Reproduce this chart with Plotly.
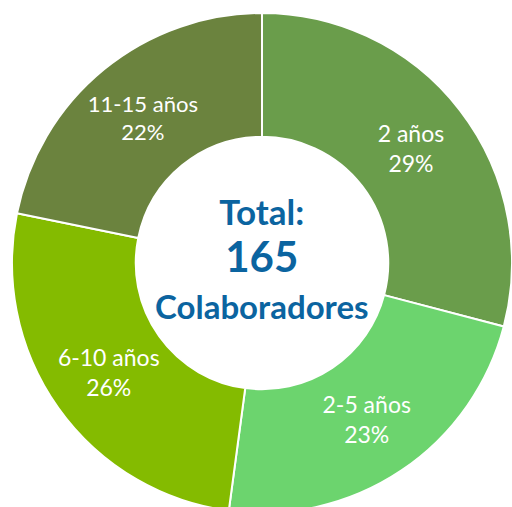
import plotly.graph_objects as go

categories = ["2 años", "2-5 años", "6-10 años", "11-15 años"]
counts = [48, 38, 43, 36]
colors = ["#6a9d4b", "#6cd46e", "#84bb00", "#6b833e"]
center_lines = ["Total:", "165", "Colaboradores"]

W, H = 512, 513
cx, cy, R = 262, 263, 250

fig = go.Figure(go.Pie(
    labels=categories,
    values=counts,
    hole=0.505,
    sort=False,
    direction="clockwise",
    rotation=0,
    marker=dict(colors=colors, line=dict(color="white", width=2)),
    texttemplate="%{label}<br>%{percent:.0%}",
    textposition="inside",
    insidetextorientation="horizontal",
    textfont=dict(family="Lato", size=23, color="white"),
    showlegend=False,
    hoverinfo="skip",
    domain=dict(x=[(cx - R) / W, min(1, (cx + R) / W)], y=[(H - cy - R) / H, (H - cy + R) / H]),
))

blue = "#0b64a0"
sizes = [35, 42, 33]
center_text = "<br>".join(
    f"<span style='font-size:{sz}px'><b>{t}</b></span>" for t, sz in zip(center_lines, sizes)
)
fig.add_annotation(
    x=cx / W, y=1 - 258 / H, xref="paper", yref="paper",
    text=center_text, showarrow=False,
    xanchor="center", yanchor="middle", align="center",
    font=dict(family="Lato", size=36, color=blue),
)

fig.update_layout(
    width=W, height=H,
    margin=dict(l=0, r=0, t=0, b=0),
    paper_bgcolor="white", plot_bgcolor="white",
)
fig.write_html(
    "out.html",
    config={"displayModeBar": False},
    post_script="document.body.style.margin='0';document.body.style.overflow='hidden';",
)
